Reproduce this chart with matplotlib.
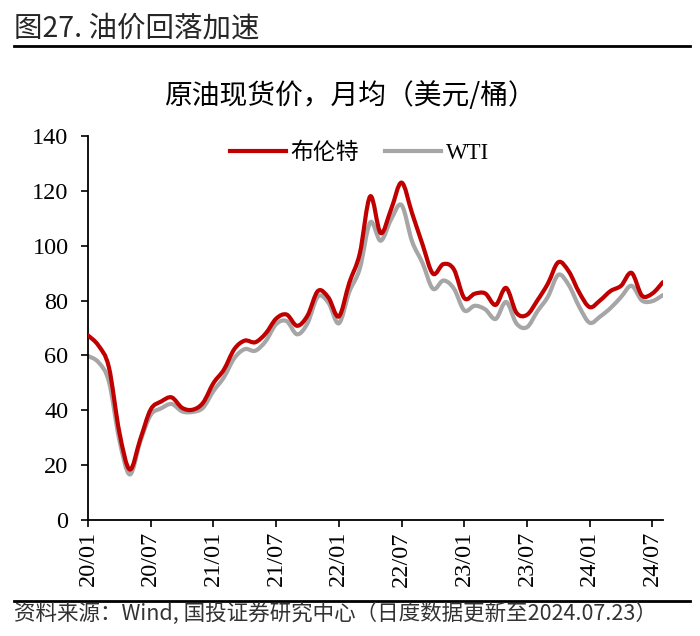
import numpy as np
import matplotlib
matplotlib.use("Agg")
import matplotlib.pyplot as plt
from matplotlib.path import Path
from matplotlib.patches import PathPatch
from matplotlib.lines import Line2D

# monthly averages, Dec-2019 .. Jul-2024 (USD/bbl)
months = [
    "2019-12",
    "2020-01", "2020-02", "2020-03", "2020-04", "2020-05", "2020-06",
    "2020-07", "2020-08", "2020-09", "2020-10", "2020-11", "2020-12",
    "2021-01", "2021-02", "2021-03", "2021-04", "2021-05", "2021-06",
    "2021-07", "2021-08", "2021-09", "2021-10", "2021-11", "2021-12",
    "2022-01", "2022-02", "2022-03", "2022-04", "2022-05", "2022-06",
    "2022-07", "2022-08", "2022-09", "2022-10", "2022-11", "2022-12",
    "2023-01", "2023-02", "2023-03", "2023-04", "2023-05", "2023-06",
    "2023-07", "2023-08", "2023-09", "2023-10", "2023-11", "2023-12",
    "2024-01", "2024-02", "2024-03", "2024-04", "2024-05", "2024-06",
    "2024-07",
]
brent = [
    67.3,
    63.6, 55.7, 32.0, 18.4, 29.4, 40.3,
    43.2, 44.7, 40.9, 40.2, 42.7, 49.9,
    54.8, 62.3, 65.4, 64.8, 68.0, 73.4,
    74.9, 70.8, 74.5, 83.5, 81.1, 74.2,
    86.5, 97.1, 118.0, 104.6, 113.3, 123.0,
    111.9, 100.5, 89.8, 93.3, 91.4, 80.9,
    82.5, 82.6, 78.4, 84.6, 75.5, 74.8,
    80.1, 86.2, 94.0, 90.6, 82.9, 77.6,
    80.1, 83.5, 85.4, 90.1, 81.8, 82.6,
    86.7,
]
wti = [
    59.8,
    57.5, 50.5, 29.2, 16.6, 28.6, 38.3,
    40.7, 42.3, 39.6, 39.4, 40.9, 47.0,
    52.0, 59.0, 62.3, 61.7, 65.2, 71.4,
    72.5, 67.7, 71.7, 81.5, 79.2, 71.7,
    83.2, 91.6, 108.5, 101.8, 109.6, 114.8,
    101.6, 93.7, 84.3, 87.3, 84.4, 76.4,
    78.1, 76.8, 73.3, 79.5, 71.6, 70.3,
    76.1, 81.4, 89.4, 85.6, 77.7, 71.9,
    74.2, 77.3, 81.3, 85.4, 80.0, 79.8,
    82.0,
]
tick_labels = ["20/01", "20/07", "21/01", "21/07", "22/01",
               "22/07", "23/01", "23/07", "24/01", "24/07"]

RED = "#C00000"
GREY = "#A6A6A6"
SERIF = ["Liberation Serif", "Noto Sans CJK SC"]
CJK = ["Noto Sans CJK SC", "DejaVu Sans"]


def smooth_path(x, y):
    """Excel-style smoothed line through the points (cubic Bezier)."""
    pts = np.column_stack([x, y]).astype(float)
    n = len(pts)
    verts, codes = [pts[0]], [Path.MOVETO]
    for i in range(n - 1):
        p0 = pts[i - 1] if i > 0 else pts[i]
        p1, p2 = pts[i], pts[i + 1]
        p3 = pts[i + 2] if i + 2 < n else pts[i + 1]
        verts += [p1 + (p2 - p0) / 6, p2 - (p3 - p1) / 6, p2]
        codes += [Path.CURVE4] * 3
    return Path(verts, codes)


x = np.arange(len(months))

fig = plt.figure(figsize=(7.0, 6.36), dpi=100)
ax = fig.add_axes([0.1257, 0.1824, 0.8213, 0.6038])

for vals, col, z in [(wti, GREY, 2), (brent, RED, 3)]:
    ax.add_patch(PathPatch(smooth_path(x, vals), facecolor="none",
                           edgecolor=col, lw=3.0, zorder=z,
                           capstyle="round", joinstyle="round"))

ax.set_xlim(0, 55)
ax.set_ylim(0, 140)
ax.set_yticks(range(0, 141, 20))
ax.set_xticks(range(0, 55, 6))
ax.set_xticklabels(tick_labels, rotation=90, fontsize=17.5, family=SERIF)
for lab in ax.get_yticklabels():
    lab.set_fontsize(17.5)
    lab.set_family(SERIF)
ax.tick_params(axis="both", direction="out", length=5, width=1.2,
               color="black")
ax.tick_params(axis="y", pad=9)
ax.tick_params(axis="x", pad=3)
for s in ["top", "right"]:
    ax.spines[s].set_visible(False)
for s in ["left", "bottom"]:
    ax.spines[s].set_linewidth(1.3)

handles = [Line2D([], [], color=RED, lw=3.0),
           Line2D([], [], color=GREY, lw=3.0)]
ax.legend(handles, ["布伦特", "WTI"], loc="center",
          bbox_to_anchor=(0.472, 0.955), ncol=2, frameon=False,
          prop={"family": SERIF, "size": 16.5},
          handlelength=2.45, columnspacing=1.15, handletextpad=0.2,
          borderpad=0.0)

# header and footer
fig.text(0.02, 0.955, "图27. 油价回落加速", fontsize=20.5, fontweight="medium",
         family=CJK, va="center", ha="left", color="#262626")
fig.add_artist(Line2D([0.02, 0.986], [0.928, 0.928], color="black", lw=2))
fig.text(0.5, 0.849, "原油现货价，月均（美元/桶）", fontsize=20,
         family=CJK, va="center", ha="center")
fig.add_artist(Line2D([0.02, 0.986], [0.055, 0.055], color="black", lw=2))
fig.text(0.02, 0.035, "资料来源：Wind, 国投证券研究中心（日度数据更新至2024.07.23）",
         fontsize=15.5, family=CJK, va="center", ha="left", color="#333333",
         style="italic")

fig.savefig("out.png", dpi=100)
